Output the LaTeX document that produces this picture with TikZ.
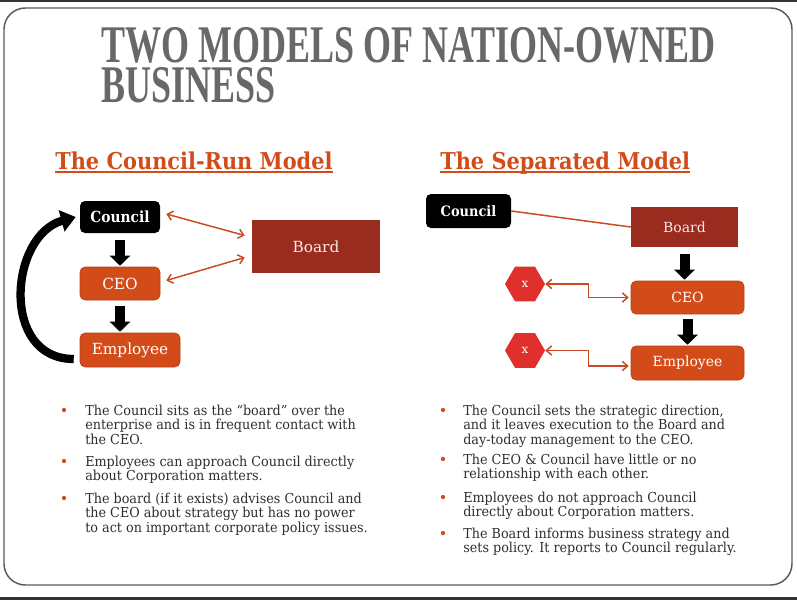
\documentclass[tikz,border=0pt]{standalone}
\usepackage{fontspec}
\setmainfont{DejaVu Serif}
\newfontfamily\titlefont{Liberation Serif}[FakeStretch=0.68]
\newfontfamily\headfont{DejaVu Serif}[FakeStretch=0.9]
\newfontfamily\bodyfont{DejaVu Serif}[FakeStretch=0.93]
\usetikzlibrary{positioning, arrows.meta, calc, shapes.geometric}
\definecolor{titlegray}{HTML}{6A6867}
\definecolor{accent}{HTML}{D24B19}
\definecolor{boardred}{HTML}{9A2B1F}
\definecolor{hexred}{HTML}{E0302B}
\definecolor{linkred}{HTML}{C94A22}
\definecolor{bodygray}{HTML}{2E2E2E}
\definecolor{framegray}{HTML}{5A5A5A}

\begin{document}
\begin{tikzpicture}[x=0.75pt, y=-0.75pt, every node/.style={inner sep=0pt},
    rbox/.style={fill=accent, draw=accent!85!black, line width=0.4pt, rounded corners=3.75pt, text=white},
    cbox/.style={fill=black, rounded corners=3.75pt, text=white},
    bbox/.style={fill=boardred, text=white!90!boardred},
    hexnode/.style={regular polygon, regular polygon sides=6, fill=hexred, minimum size=30pt, text=white, font=\fontsize{9}{10}\selectfont},
    downarrow/.style={line width=7.5pt, -{Triangle[width=15pt,length=7.5pt]}},
    loopback/.style={line width=6.2pt, -{Triangle[width=16pt,length=11pt]}},
    link/.style={draw=linkred, line width=1.1pt, {Straight Barb[length=4pt,width=7pt]}-{Straight Barb[length=4pt,width=7pt]}},
    bullettext/.style={anchor=north west, align=left, text=bodygray, font=\bodyfont\fontsize{10.3}{11}\selectfont},
    subhead/.style={anchor=base west, text=accent, font=\headfont\bfseries\fontsize{17.4}{20}\selectfont}]
        \useasboundingbox (0,0) rectangle (797,600);
        % Frame
        \fill[black!80] (0,0) rectangle (797,1.5);
        \fill[black!80] (0,597) rectangle (797,600);
        \draw[framegray, line width=1.1pt, rounded corners=16pt] (4,8) rectangle (792,585);

        % Title
        \node[anchor=north west, align=left, text=titlegray, font=\titlefont\bfseries\fontsize{39.7}{30}\selectfont] (title) at (101,27) {TWO MODELS OF NATION-OWNED\\BUSINESS};

        % Headings
        \node[subhead] (lhead) at (55,169) {The Council-Run Model};
        \draw[accent, line width=1.4pt] ([yshift=-2.5pt]lhead.base west) -- ([yshift=-2.5pt]lhead.base east);
        \node[subhead] (rhead) at (440,169) {The Separated Model};
        \draw[accent, line width=1.4pt] ([yshift=-2.5pt]rhead.base west) -- ([yshift=-2.5pt]rhead.base east);

        % Council-run model
        \node (lcouncil) [cbox, minimum width=60pt, minimum height=24pt, font=\headfont\bfseries\fontsize{11.5}{13}\selectfont] at (120,217) {Council};
        \node (lceo) [rbox, minimum width=60pt, minimum height=24.75pt, font=\fontsize{11.5}{13}\selectfont] at (120,283.5) {CEO};
        \node (lemp) [rbox, minimum width=75pt, minimum height=25.5pt, font=\fontsize{11.5}{13}\selectfont] at (130,350) {Employee};
        \node (lboard) [bbox, minimum width=96pt, minimum height=39.75pt, font=\fontsize{11.5}{13}\selectfont] at (316,246.5) {Board};

        \draw[downarrow, shorten <=5.25pt, shorten >=0.75pt] (lcouncil.south) -- (lceo.north);
        \draw[downarrow, shorten <=4.5pt, shorten >=0.75pt] (lceo.south) -- (lceo.south |- lemp.north);
        \draw[loopback] ($(lemp.west)+(-6,9)$) .. controls +(-74,0) and +(-66,18) .. ([xshift=-3pt]lcouncil.west);
        \draw[link] ($(lcouncil.east)+(6,-3)$) -- ($(lboard.west)+(-7,-11)$);
        \draw[link] ($(lceo.east)+(6,-3)$) -- ($(lboard.west)+(-7,11)$);

        % Separated model
        \node (rcouncil) [cbox, minimum width=63.75pt, minimum height=25.5pt, font=\headfont\bfseries\fontsize{10.8}{13}\selectfont] at (468.5,211) {Council};
        \node (rboard) [bbox, minimum width=80.25pt, minimum height=30pt, font=\fontsize{10.5}{12}\selectfont] at (684.5,227) {Board};
        \node (rceo) [rbox, minimum width=84.75pt, minimum height=24.75pt, font=\fontsize{10.5}{12}\selectfont] at (687.5,297.5) {CEO};
        \node (remp) [rbox, minimum width=84.75pt, minimum height=25.5pt, font=\fontsize{10.5}{12}\selectfont] at (687.5,363) {Employee};
        \node (xceo) [hexnode] at (525,284) {x};
        \node (xemp) [hexnode] at (525,350.5) {x};

        \draw[linkred, line width=1.1pt] (rcouncil.east) -- (rboard.west);
        \draw[downarrow, shorten <=5.25pt, shorten >=0.75pt] (rboard.south) -- (rboard.south |- rceo.north);
        \draw[downarrow, shorten <=3.75pt, shorten >=0.75pt] (rceo.south) -- (remp.north);
        \draw[link] (xceo.east) -- ++(43,0) |- ([xshift=-1.5pt]rceo.west);
        \draw[link] (xemp.east) -- ++(43,0) |- ($(remp.west)+(-2,3)$);

        % Bullet points
        \foreach \y in {410,461,498} \fill[accent] (64,\y) circle (1.6pt);
        \foreach \y in {410,459,497,533} \fill[accent] (443,\y) circle (1.6pt);

        \node[bullettext] (lb1) at (85,404.6) {The Council sits as the “board” over the\\enterprise and is in frequent contact with\\the CEO.};
        \node[bullettext] (lb2) at (85,455.6) {Employees can approach Council directly\\about Corporation matters.};
        \node[bullettext] (lb3) at (85,492.3) {The board (if it exists) advises Council and\\the CEO about strategy but has no power\\to act on important corporate policy issues.};

        \node[bullettext] (rb1) at (463,404.6) {The Council sets the strategic direction,\\and it leaves execution to the Board and\\day-today management to the CEO.};
        \node[bullettext] (rb2) at (463,453.6) {The CEO \& Council have little or no\\relationship with each other.};
        \node[bullettext] (rb3) at (463,491.6) {Employees do not approach Council\\directly about Corporation matters.};
        \node[bullettext] (rb4) at (463,527.6) {The Board informs business strategy and\\sets policy. It reports to Council regularly.};
    \end{tikzpicture}
\end{document}
